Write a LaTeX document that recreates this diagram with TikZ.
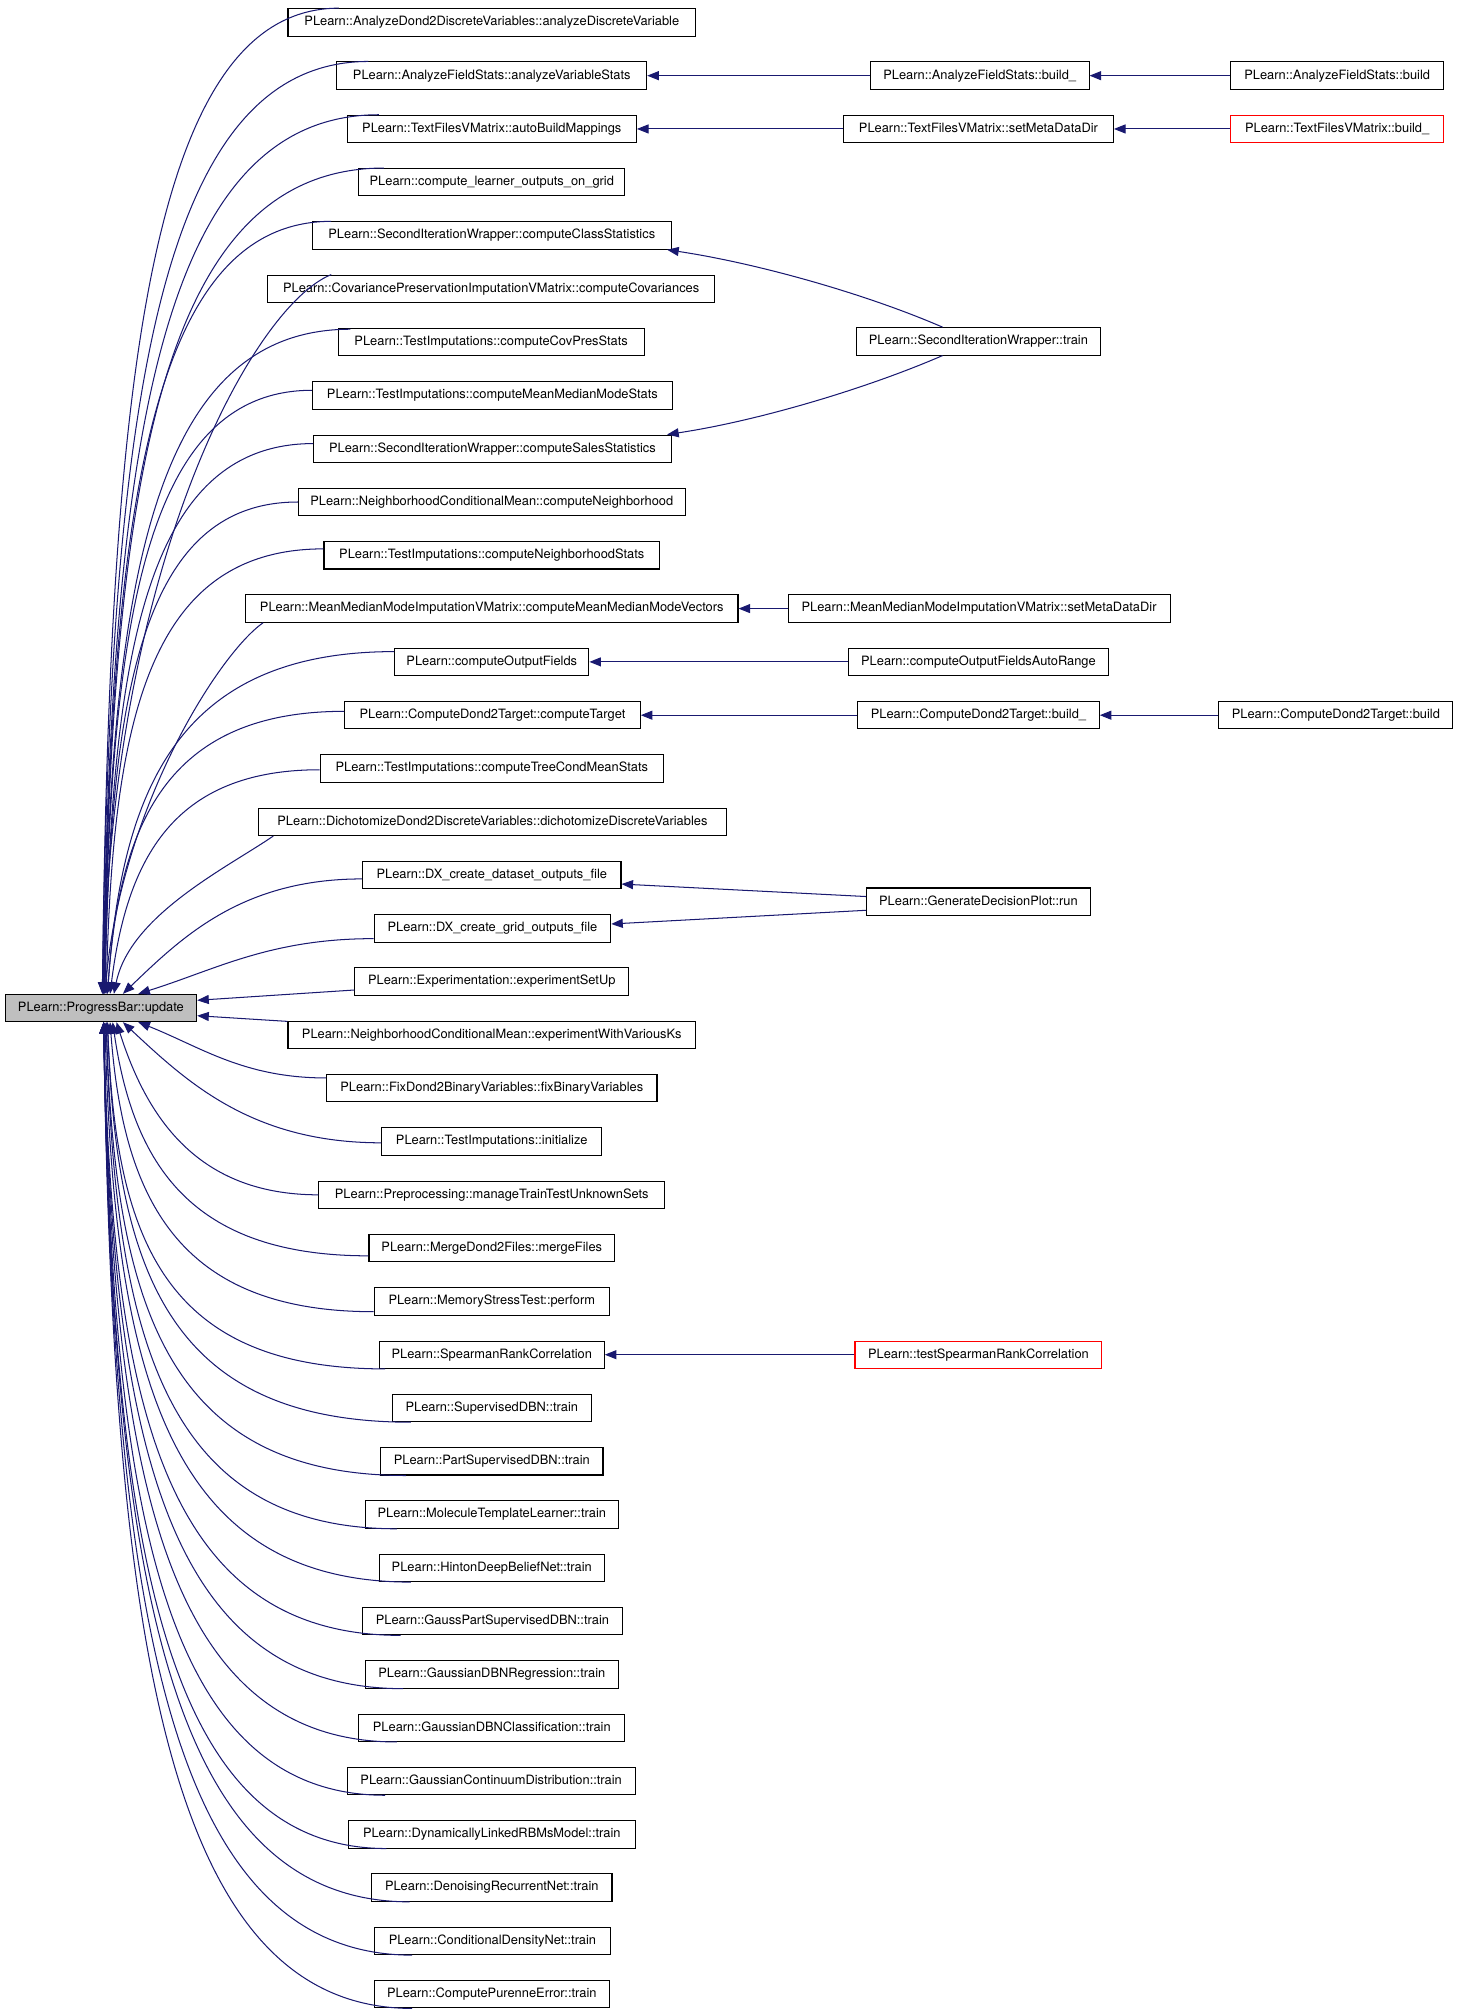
\documentclass[tikz,border=0pt]{standalone}
\usepackage{fontspec}
\setmainfont{TeX Gyre Heros}
\usetikzlibrary{arrows.meta,calc}
\definecolor{edgeblue}{HTML}{191970}
\definecolor{pbgray}{HTML}{BFBFBF}
\tikzset{
  nbox/.style={draw=black, line width=0.8pt, fill=white, minimum height=21.3pt,
    inner xsep=2pt, inner ysep=0pt, text height=7.4pt, text depth=2.2pt,
    font=\fontsize{10pt}{12pt}\selectfont},
  redbox/.style={nbox, draw=red},
  graybox/.style={nbox, fill=pbgray},
  conn/.style={draw=edgeblue, line width=0.8pt, -{Triangle[length=9pt,width=7pt]}},
}
% #1 end on caller node, #2 start on ProgressBar (arrow tip), #3 #4 first control fractions,
% #5 second control x fraction, #6 second control y offset (pt, downwards)
\newcommand\fan[6]{\draw[conn] let \p1=#1, \p2=#2 in (\p1) .. controls ({\x1-#5*(\x1-\x2)},{\y1-(#6pt)}) and ({\x2+#3*(\x1-\x2)},{\y2+#4*(\y1-\y2)}) .. (\p2);}
\begin{document}
\begin{tikzpicture}[x=1pt,y=-1pt]
\useasboundingbox (0,0) rectangle (1134.9,1568);
\node[graybox, minimum width=149pt] (pb) at (78.5,784) {PLearn::ProgressBar::update};
% middle column
\node[nbox, minimum width=317pt] (n1) at (382.5,17.4) {PLearn::AnalyzeDond2DiscreteVariables::analyzeDiscreteVariable};
\node[nbox, minimum width=241pt] (n2) at (382.5,58.85) {PLearn::AnalyzeFieldStats::analyzeVariableStats};
\node[nbox, minimum width=225pt] (n3) at (382.5,100.3) {PLearn::TextFilesVMatrix::autoBuildMappings};
\node[nbox, minimum width=207pt] (n4) at (382.5,141.75) {PLearn::compute\_learner\_outputs\_on\_grid};
\node[nbox, minimum width=279pt] (n5) at (382.5,183.2) {PLearn::SecondIterationWrapper::computeClassStatistics};
\node[nbox, minimum width=348pt] (n6) at (382,224.65) {PLearn::CovariancePreservationImputationVMatrix::computeCovariances};
\node[nbox, minimum width=238pt] (n7) at (382,266.1) {PLearn::TestImputations::computeCovPresStats};
\node[nbox, minimum width=280pt] (n8) at (383,307.55) {PLearn::TestImputations::computeMeanMedianModeStats};
\node[nbox, minimum width=278pt] (n9) at (383,349.0) {PLearn::SecondIterationWrapper::computeSalesStatistics};
\node[nbox, minimum width=301pt] (n10) at (382.5,390.45) {PLearn::NeighborhoodConditionalMean::computeNeighborhood};
\node[nbox, minimum width=261pt] (n11) at (382.5,431.9) {PLearn::TestImputations::computeNeighborhoodStats};
\node[nbox, minimum width=383pt] (n12) at (382.5,473.35) {PLearn::MeanMedianModeImputationVMatrix::computeMeanMedianModeVectors};
\node[nbox, minimum width=151pt] (n13) at (382.5,514.8) {PLearn::computeOutputFields};
\node[nbox, minimum width=230pt] (n14) at (383,556.25) {PLearn::ComputeDond2Target::computeTarget};
\node[nbox, minimum width=267pt] (n15) at (382.5,597.7) {PLearn::TestImputations::computeTreeCondMeanStats};
\node[nbox, minimum width=364pt] (n16) at (383,639.15) {PLearn::DichotomizeDond2DiscreteVariables::dichotomizeDiscreteVariables};
\node[nbox, minimum width=201pt] (n17) at (382.5,680.6) {PLearn::DX\_create\_dataset\_outputs\_file};
\node[nbox, minimum width=184pt] (n18) at (383,722.05) {PLearn::DX\_create\_grid\_outputs\_file};
\node[nbox, minimum width=213pt] (n19) at (382.5,763.5) {PLearn::Experimentation::experimentSetUp};
\node[nbox, minimum width=317pt] (n20) at (382.5,804.95) {PLearn::NeighborhoodConditionalMean::experimentWithVariousKs};
\node[nbox, minimum width=257pt] (n21) at (382.5,846.4) {PLearn::FixDond2BinaryVariables::fixBinaryVariables};
\node[nbox, minimum width=171pt] (n22) at (382.5,887.85) {PLearn::TestImputations::initialize};
\node[nbox, minimum width=269pt] (n23) at (382.5,929.3) {PLearn::Preprocessing::manageTrainTestUnknownSets};
\node[nbox, minimum width=191pt] (n24) at (382.5,970.75) {PLearn::MergeDond2Files::mergeFiles};
\node[nbox, minimum width=183pt] (n25) at (382.5,1012.2) {PLearn::MemoryStressTest::perform};
\node[nbox, minimum width=175pt] (n26) at (382.5,1053.65) {PLearn::SpearmanRankCorrelation};
\node[nbox, minimum width=155pt] (n27) at (382.5,1095.1) {PLearn::SupervisedDBN::train};
\node[nbox, minimum width=173pt] (n28) at (382.5,1136.55) {PLearn::PartSupervisedDBN::train};
\node[nbox, minimum width=197pt] (n29) at (382.5,1178.0) {PLearn::MoleculeTemplateLearner::train};
\node[nbox, minimum width=175pt] (n30) at (382.5,1219.45) {PLearn::HintonDeepBeliefNet::train};
\node[nbox, minimum width=202pt] (n31) at (383,1260.9) {PLearn::GaussPartSupervisedDBN::train};
\node[nbox, minimum width=197pt] (n32) at (382.5,1302.35) {PLearn::GaussianDBNRegression::train};
\node[nbox, minimum width=207pt] (n33) at (382.5,1343.8) {PLearn::GaussianDBNClassification::train};
\node[nbox, minimum width=224pt] (n34) at (382,1385.25) {PLearn::GaussianContinuumDistribution::train};
\node[nbox, minimum width=223pt] (n35) at (382.5,1426.7) {PLearn::DynamicallyLinkedRBMsModel::train};
\node[nbox, minimum width=187pt] (n36) at (382.5,1468.15) {PLearn::DenoisingRecurrentNet::train};
\node[nbox, minimum width=184pt] (n37) at (383,1509.6) {PLearn::ConditionalDensityNet::train};
\node[nbox, minimum width=183pt] (n38) at (382.5,1551.05) {PLearn::ComputePurenneError::train};
% right columns
\node[nbox, minimum width=170pt] (r1) at (762,58.85) {PLearn::AnalyzeFieldStats::build\_};
\node[nbox, minimum width=166pt] (r2) at (1040,58.85) {PLearn::AnalyzeFieldStats::build};
\node[nbox, minimum width=210pt] (r3) at (761,100.3) {PLearn::TextFilesVMatrix::setMetaDataDir};
\node[redbox, minimum width=166pt] (r4) at (1040,100.3) {PLearn::TextFilesVMatrix::build\_};
\node[nbox, minimum width=190pt] (r5) at (761,265.5) {PLearn::SecondIterationWrapper::train};
\node[nbox, minimum width=297pt] (r6) at (761.5,473.35) {PLearn::MeanMedianModeImputationVMatrix::setMetaDataDir};
\node[nbox, minimum width=202pt] (r7) at (761,514.8) {PLearn::computeOutputFieldsAutoRange};
\node[nbox, minimum width=188pt] (r8) at (761,556.25) {PLearn::ComputeDond2Target::build\_};
\node[nbox, minimum width=182pt] (r9) at (1039,556.25) {PLearn::ComputeDond2Target::build};
\node[nbox, minimum width=174pt] (r10) at (761,701.3) {PLearn::GenerateDecisionPlot::run};
\node[redbox, minimum width=192pt] (r11) at (761,1053.65) {PLearn::testSpearmanRankCorrelation};
% fan of callers into ProgressBar::update (upper half)
\fan{([xshift=40pt]n1.north west)}{([xshift=76pt]pb.north west)}{0.03}{0.62}{0.8}{0}
\fan{([xshift=25pt]n2.north west)}{([xshift=76pt]pb.north west)}{0.03}{0.62}{0.8}{0}
\fan{([xshift=25pt]n3.north west)}{([xshift=76.5pt]pb.north west)}{0.03}{0.62}{0.8}{0}
\fan{([xshift=20pt]n4.north west)}{([xshift=77pt]pb.north west)}{0.03}{0.62}{0.8}{0}
\fan{([xshift=15pt]n5.north west)}{([xshift=77pt]pb.north west)}{0.03}{0.62}{0.8}{0}
\fan{([xshift=50pt]n6.north west)}{([xshift=77pt]pb.north west)}{0.03}{0.6}{0.34}{24}
\fan{([xshift=10pt,yshift=-1pt]n7.north west)}{([xshift=77pt]pb.north west)}{0.03}{0.62}{0.8}{0}
\fan{([yshift=4pt]n8.west)}{([xshift=77.5pt]pb.north west)}{0.03}{0.62}{0.8}{0}
\fan{([yshift=4pt]n9.west)}{([xshift=78pt]pb.north west)}{0.03}{0.62}{0.8}{0}
\fan{(n10.west)}{([xshift=78pt]pb.north west)}{0.03}{0.62}{0.8}{0}
\fan{([yshift=5pt]n11.west)}{([xshift=79pt]pb.north west)}{0.03}{0.62}{0.8}{0}
\fan{([xshift=14pt]n12.south west)}{([xshift=78pt]pb.north west)}{0.1}{0.5}{0.28}{24}
\fan{([yshift=8pt]n13.west)}{([xshift=80pt]pb.north west)}{0.05}{0.6}{0.75}{0}
\fan{([yshift=3pt]n14.west)}{([xshift=80pt]pb.north west)}{0.05}{0.6}{0.75}{0}
\fan{([yshift=-1pt]n15.west)}{([xshift=82pt]pb.north west)}{0.08}{0.6}{0.7}{0}
\fan{([xshift=12pt]n16.south west)}{([xshift=85pt]pb.north west)}{0.1}{0.5}{0.28}{24}
\fan{([yshift=-3pt]n17.west)}{([xshift=92pt]pb.north west)}{0.25}{0.5}{0.5}{0}
\fan{([yshift=-8pt]n18.west)}{([xshift=104pt]pb.north west)}{0.33}{0.44}{0.44}{0}
\draw[conn] ([yshift=-6.5pt]n19.west) -- ([yshift=6pt]pb.east);
\draw[conn] ([yshift=-0.5pt]n20.north west) -- ([yshift=-6pt]pb.east);
% lower half
\fan{([yshift=8pt]n21.west)}{([xshift=104pt]pb.south west)}{0.33}{0.44}{0.44}{0}
\fan{([yshift=-1pt]n22.west)}{([xshift=92pt]pb.south west)}{0.25}{0.5}{0.5}{0}
\fan{(n23.west)}{([xshift=87pt]pb.south west)}{0.15}{0.55}{0.6}{0}
\fan{([yshift=-6pt]n24.west)}{([xshift=84pt]pb.south west)}{0.08}{0.6}{0.7}{0}
\fan{([yshift=-8pt]n25.west)}{([xshift=82pt]pb.south west)}{0.05}{0.6}{0.75}{0}
\fan{([xshift=5pt]n26.south west)}{([xshift=80pt]pb.south west)}{0.03}{0.62}{0.8}{0}
\fan{([xshift=15pt]n27.south west)}{([xshift=80pt]pb.south west)}{0.03}{0.62}{0.8}{0}
\fan{([xshift=20pt]n28.south west)}{([xshift=79pt]pb.south west)}{0.03}{0.62}{0.8}{0}
\fan{([xshift=25pt]n29.south west)}{([xshift=79pt]pb.south west)}{0.03}{0.62}{0.8}{0}
\fan{([xshift=25pt]n30.south west)}{([xshift=78pt]pb.south west)}{0.03}{0.62}{0.8}{0}
\fan{([xshift=30pt]n31.south west)}{([xshift=77pt]pb.south west)}{0.03}{0.62}{0.8}{0}
\fan{([xshift=30pt]n32.south west)}{([xshift=77pt]pb.south west)}{0.03}{0.62}{0.8}{0}
\fan{([xshift=30pt]n33.south west)}{([xshift=77pt]pb.south west)}{0.03}{0.62}{0.8}{0}
\fan{([xshift=30pt]n34.south west)}{([xshift=77pt]pb.south west)}{0.03}{0.62}{0.8}{0}
\fan{([xshift=30pt]n35.south west)}{([xshift=77pt]pb.south west)}{0.03}{0.62}{0.8}{0}
\fan{([xshift=30pt]n36.south west)}{([xshift=77pt]pb.south west)}{0.03}{0.62}{0.8}{0}
\fan{([xshift=30pt]n37.south west)}{([xshift=77pt]pb.south west)}{0.03}{0.62}{0.8}{0}
\fan{([xshift=30pt]n38.south west)}{([xshift=77pt]pb.south west)}{0.03}{0.62}{0.8}{0}
% right-hand callers
\draw[conn] (r1.west) -- (n2.east);
\draw[conn] (r2.west) -- (r1.east);
\draw[conn] (r3.west) -- (n3.east);
\draw[conn] (r4.west) -- (r3.east);
\draw[conn] ([xshift=67.5pt]r5.north west) .. controls +(-60,-26) and +(70,10.5) .. ([xshift=-3.5pt]n5.south east);
\draw[conn] ([xshift=67.5pt]r5.south west) .. controls +(-60,26) and +(70,-10.5) .. ([xshift=-3.5pt]n9.north east);
\draw[conn] (r6.west) -- (n12.east);
\draw[conn] (r7.west) -- (n13.east);
\draw[conn] (r8.west) -- (n14.east);
\draw[conn] (r9.west) -- (r8.east);
\draw[conn] ([yshift=4pt]r10.west) -- ([yshift=-7pt]n17.east);
\draw[conn] ([yshift=-6.7pt]r10.west) -- ([yshift=3.4pt]n18.east);
\draw[conn] (r11.west) -- (n26.east);
\end{tikzpicture}
\end{document}
